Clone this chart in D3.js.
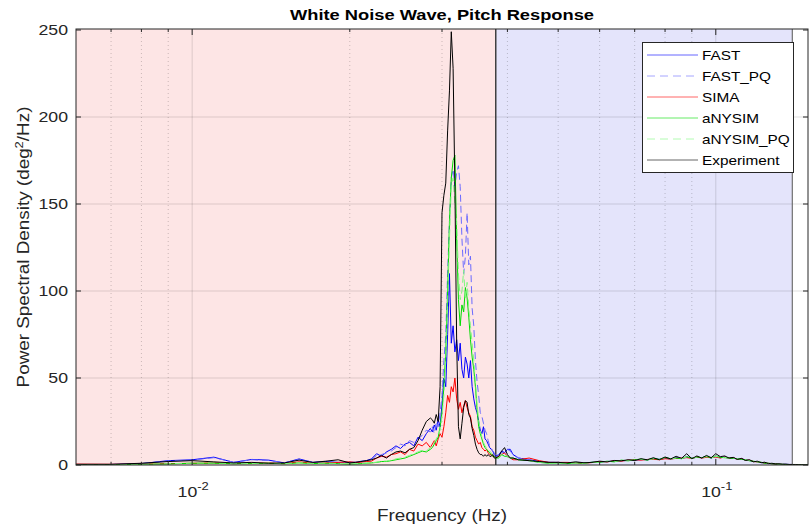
<!DOCTYPE html>
<html>
<head>
<meta charset="utf-8">
<script src="https://cdn.jsdelivr.net/npm/d3@7"></script>
<style>
  body { margin: 0; background: #fff; }
  svg { font-family: "Liberation Sans", Arial, sans-serif; }
</style>
</head>
<body>
<svg id="chart" width="809" height="529"></svg>
<script>
// Frequencies (Hz) shared by all series
const freq = [
  0.006, 0.007, 0.008, 0.009, 0.010, 0.011, 0.012, 0.013, 0.014, 0.015, 0.016, 0.017, 0.018, 0.019, 0.020,
  0.0205, 0.021, 0.0215, 0.022, 0.0225, 0.023, 0.0235, 0.024, 0.0245, 0.025, 0.0255, 0.026, 0.0265, 0.027, 0.0275, 0.028, 0.0285,
  0.02875, 0.029, 0.02925, 0.0295, 0.02975, 0.030, 0.03025, 0.0305, 0.03075, 0.031, 0.03125, 0.0315, 0.03175, 0.032,
  0.03225, 0.0325, 0.03275, 0.033, 0.03325, 0.0335, 0.03375, 0.034, 0.03425, 0.0345, 0.03475, 0.035, 0.03525, 0.0355,
  0.03575, 0.036, 0.03625, 0.0365, 0.03675, 0.037, 0.03725, 0.0375, 0.03775, 0.038,
  0.0385, 0.039, 0.0395, 0.040, 0.0405, 0.041, 0.042,
  0.044, 0.046, 0.048, 0.050, 0.052, 0.054, 0.056, 0.058, 0.060, 0.062, 0.064, 0.066, 0.068, 0.070,
  0.072, 0.074, 0.076, 0.078, 0.080, 0.082, 0.084, 0.086, 0.088, 0.090, 0.092, 0.094, 0.096, 0.098, 0.100,
  0.102, 0.104, 0.106, 0.108, 0.110, 0.112, 0.114, 0.116, 0.118, 0.120, 0.122, 0.124, 0.126, 0.128, 0.130,
  0.132, 0.134, 0.136, 0.138, 0.140, 0.142, 0.144, 0.146, 0.148, 0.150
];

const fast = [
  0.3, 0.3, 0.8, 2.5, 3.0, 4.5, 1.5, 3.2, 2.8, 1.2, 3.5, 1.5, 2.0, 1.5, 1.5,
  1.5, 2.0, 2.5, 3.5, 6.5, 5.0, 7.5, 9.0, 11, 9.5, 12, 13, 11, 16, 14, 18, 21,
  19, 23, 20, 26, 22, 35, 50, 45, 75, 110, 70, 80, 65, 72,
  60, 70, 55, 50, 62, 58, 50, 60, 45, 38, 33, 30, 25, 20,
  18, 22, 15, 14, 12, 10, 9, 8, 6, 5,
  6, 8, 7, 9, 9, 6, 4,
  3, 2, 1.5, 1.5, 1.2, 1.5, 1.2, 1.5, 1.8, 2.0, 2.2, 2.5, 2.6, 2.8,
  3.2, 3.0, 3.6, 3.2, 4.0, 3.4, 4.2, 3.8, 4.6, 4.0, 4.4, 4.2, 4.8, 4.0, 5.0,
  4.2, 4.6, 3.8, 4.0, 3.4, 3.6, 2.8, 2.6, 2.0, 2.0, 1.4, 1.2, 0.9, 0.8, 0.6,
  0.5, 0.4, 0.4, 0.3, 0.3, 0.2, 0.2, 0.2, 0.1, 0.1
];

const fastPQ = [
  0.3, 0.3, 0.8, 2.3, 2.8, 4.2, 1.6, 3.0, 2.6, 1.3, 3.2, 1.6, 1.8, 1.4, 1.6,
  1.6, 2.2, 2.4, 3.2, 5.5, 6.0, 7.0, 8.0, 10, 12, 11, 14, 13, 15, 17, 20, 19,
  22, 18, 25, 22, 30, 40, 60, 75, 110, 140, 165, 170, 160, 168,
  172, 160, 130, 110, 120, 145, 115, 120, 90, 80, 60, 48, 40, 30,
  28, 24, 20, 18, 14, 11, 10, 8, 7, 5,
  6, 7, 8, 9, 8, 6, 4,
  3, 2, 1.5, 1.5, 1.2, 1.4, 1.3, 1.5, 1.8, 2.0, 2.2, 2.4, 2.6, 2.9,
  3.0, 3.1, 3.4, 3.3, 3.8, 3.5, 4.0, 3.8, 4.4, 4.0, 4.5, 4.1, 4.6, 4.2, 4.8,
  4.3, 4.5, 3.9, 4.0, 3.5, 3.5, 2.9, 2.6, 2.1, 1.9, 1.5, 1.2, 0.9, 0.8, 0.6,
  0.5, 0.4, 0.4, 0.3, 0.3, 0.2, 0.2, 0.2, 0.1, 0.1
];

const sima = [
  0.5, 0.4, 0.5, 0.8, 1.0, 1.2, 0.8, 1.0, 1.2, 0.8, 1.8, 1.0, 1.2, 1.5, 1.8,
  1.5, 1.6, 2.0, 2.2, 4.0, 5.0, 4.5, 6.0, 6.5, 7.5, 6.0, 9.0, 8.0, 12, 11, 13, 10,
  12, 14, 11, 15, 18, 16, 22, 30, 40, 36, 45, 42, 50, 38,
  32, 36, 30, 34, 37, 33, 30, 28, 22, 20, 16, 14, 12, 13,
  10, 9, 8, 9, 7, 6, 6, 5, 5, 4,
  5, 6, 7, 5, 4, 3, 3,
  4, 2.5, 1.5, 1.5, 1.5, 1.3, 1.0, 1.4, 2.0, 1.8, 2.4, 2.2, 2.8, 3.0,
  2.8, 3.2, 3.3, 3.0, 3.6, 3.4, 3.8, 4.0, 4.2, 3.8, 4.6, 4.0, 4.4, 4.2, 4.6,
  4.0, 4.6, 3.8, 4.2, 3.2, 3.6, 2.8, 2.8, 2.0, 1.8, 1.5, 1.1, 1.0, 0.7, 0.6,
  0.5, 0.4, 0.3, 0.3, 0.3, 0.2, 0.2, 0.2, 0.1, 0.1
];

const anysim = [
  0.2, 0.2, 0.4, 0.6, 1.0, 1.0, 0.7, 0.8, 1.0, 0.7, 1.2, 0.8, 1.0, 0.8, 0.5,
  0.6, 0.8, 1.0, 1.2, 1.5, 2.0, 2.0, 2.5, 3.0, 3.5, 4.0, 5.0, 6.0, 7.0, 8.0, 7.5, 9.0,
  10, 12, 14, 16, 22, 30, 45, 65, 100, 140, 165, 175, 178, 130,
  95, 80, 92, 88, 102, 96, 85, 72, 62, 55, 45, 32, 22, 18,
  15, 12, 10, 9, 8, 7, 6, 5, 5, 4,
  4, 6, 5, 5, 4, 4, 3,
  2.5, 1.5, 1.0, 1.2, 0.8, 1.2, 1.0, 1.6, 1.5, 2.2, 1.8, 2.8, 2.4, 3.0,
  3.4, 2.8, 3.8, 3.2, 4.4, 3.6, 4.0, 3.6, 4.8, 3.8, 4.6, 4.2, 5.0, 4.0, 5.2,
  4.4, 4.2, 4.0, 3.8, 3.6, 3.2, 3.0, 2.4, 2.2, 1.8, 1.6, 1.0, 1.0, 0.7, 0.6,
  0.4, 0.4, 0.3, 0.3, 0.2, 0.2, 0.2, 0.1, 0.1, 0.1
];

const anysimPQ = [
  0.2, 0.2, 0.4, 0.7, 1.1, 1.2, 0.8, 0.9, 1.1, 0.8, 1.3, 0.9, 1.1, 0.9, 0.6,
  0.7, 0.9, 1.1, 1.3, 1.6, 2.2, 2.3, 2.8, 3.5, 4.0, 4.5, 5.5, 6.5, 7.5, 8.5, 8.0, 10,
  11, 13, 15, 18, 20, 28, 40, 60, 90, 130, 160, 165, 150, 140,
  110, 95, 100, 112, 95, 105, 90, 80, 70, 60, 48, 35, 26, 20,
  16, 13, 11, 10, 9, 8, 7, 6, 5, 4,
  4, 6, 6, 5, 4, 4, 3,
  2.5, 1.5, 1.0, 1.2, 0.9, 1.2, 1.0, 1.5, 1.6, 2.0, 2.0, 2.6, 2.5, 3.0,
  3.2, 3.0, 3.6, 3.2, 4.2, 3.5, 4.0, 3.7, 4.6, 3.9, 4.5, 4.2, 4.8, 4.1, 5.0,
  4.3, 4.4, 3.9, 3.9, 3.5, 3.4, 2.9, 2.5, 2.1, 1.9, 1.5, 1.1, 1.0, 0.7, 0.6,
  0.5, 0.4, 0.3, 0.3, 0.3, 0.2, 0.2, 0.1, 0.1, 0.1
];

const experiment = [
  0.4, 0.4, 1.0, 2.0, 2.5, 1.8, 1.2, 1.5, 1.0, 1.2, 2.8, 1.5, 2.2, 3.0, 1.2,
  1.5, 2.0, 2.5, 3.0, 4.0, 5.5, 4.0, 6.0, 7.5, 8.0, 7.0, 9.0, 10, 14, 20, 25, 27,
  26, 24, 29, 25, 45, 145, 155, 162, 192, 215, 249, 228, 160, 70,
  22, 15, 24, 33, 37, 36, 29, 27, 21, 17, 12, 9, 7, 6,
  6, 5, 6, 5, 6, 5, 5, 6, 4, 4,
  5, 8, 10, 6, 4, 4, 3,
  2.5, 2, 1.5, 1.5, 1.2, 1.8, 1.3, 1.5, 2.2, 1.8, 2.6, 2.4, 3.0, 2.6,
  3.6, 3.0, 4.2, 3.0, 4.6, 3.5, 5.0, 3.8, 6.5, 3.6, 5.2, 4.0, 5.5, 4.2, 6.5,
  4.8, 5.2, 4.0, 4.4, 3.2, 3.8, 2.6, 3.0, 1.8, 2.2, 1.3, 1.6, 0.8, 1.0, 0.6,
  0.7, 0.4, 0.5, 0.3, 0.3, 0.3, 0.2, 0.2, 0.1, 0.1
];

const seriesNames = ["FAST", "FAST_PQ", "SIMA", "aNYSIM", "aNYSIM_PQ", "Experiment"];
const seriesValues = [fast, fastPQ, sima, anysim, anysimPQ, experiment];
const seriesColors = ["#0000ff", "#6a6aff", "#ff0000", "#00dd00", "#80f880", "#000000"];
const seriesDash = [null, "7,4", null, null, "7,4", null];

const yTicks = [0, 50, 100, 150, 200, 250];
const xMajor = [0.01, 0.1];
const xMinor = [0.007, 0.008, 0.009, 0.02, 0.03, 0.04, 0.05, 0.06, 0.07, 0.08, 0.09];

// shaded frequency bands
const bands = [
  { from: 0.006, to: 0.038, fill: "#fde5e5" },
  { from: 0.038, to: 0.14, fill: "#e4e4fb" }
];

// Layout
const margin = { left: 76, top: 29, right: 808, bottom: 465 };
const svg = d3.select("#chart");
const x = d3.scaleLog().domain([0.006, 0.15]).range([margin.left, margin.right]);
const y = d3.scaleLinear().domain([0, 250]).range([margin.bottom, margin.top + 1]);
const axisColor = "#262626";
const sx = 1.18; // text runs a little wider than Liberation Sans

svg.append("defs").append("clipPath").attr("id", "clip")
   .append("rect")
   .attr("x", margin.left).attr("y", margin.top)
   .attr("width", margin.right - margin.left).attr("height", margin.bottom - margin.top);

// bands
svg.append("g").selectAll("rect")
   .data(bands)
   .enter().append("rect")
   .attr("x", d => x(d.from))
   .attr("y", margin.top)
   .attr("width", d => x(d.to) - x(d.from))
   .attr("height", margin.bottom - margin.top)
   .attr("fill", d => d.fill);

// grid
const grid = svg.append("g");
grid.selectAll(".ygrid").data(yTicks.slice(1, -1)).enter().append("line")
    .attr("x1", margin.left).attr("x2", margin.right)
    .attr("y1", d => y(d)).attr("y2", d => y(d))
    .attr("stroke", "rgba(0,0,0,0.13)");
grid.selectAll(".xgrid").data(xMajor).enter().append("line")
    .attr("x1", d => x(d)).attr("x2", d => x(d))
    .attr("y1", margin.top).attr("y2", margin.bottom)
    .attr("stroke", "rgba(0,0,0,0.13)");
grid.selectAll(".xminor").data(xMinor).enter().append("line")
    .attr("x1", d => x(d)).attr("x2", d => x(d))
    .attr("y1", margin.top).attr("y2", margin.bottom)
    .attr("stroke", "rgba(0,0,0,0.2)")
    .attr("stroke-dasharray", "1,3");

// band edges
svg.append("line")
   .attr("x1", x(0.038)).attr("x2", x(0.038))
   .attr("y1", margin.top).attr("y2", margin.bottom)
   .attr("stroke", "#404040").attr("stroke-width", 1.5);
svg.append("line")
   .attr("x1", x(0.14)).attr("x2", x(0.14))
   .attr("y1", margin.top).attr("y2", margin.bottom)
   .attr("stroke", "#707070").attr("stroke-width", 1.2);

// data lines
const line = d3.line()
    .x((d, i) => x(freq[i]))
    .y(d => y(d));

svg.append("g").attr("clip-path", "url(#clip)")
   .selectAll("path")
   .data(seriesValues)
   .enter().append("path")
   .attr("d", d => line(d))
   .attr("fill", "none")
   .attr("stroke", (d, i) => seriesColors[i])
   .attr("stroke-width", 1)
   .attr("stroke-dasharray", (d, i) => seriesDash[i]);

// axes box
svg.append("rect")
   .attr("x", margin.left).attr("y", margin.top)
   .attr("width", margin.right - margin.left).attr("height", margin.bottom - margin.top)
   .attr("fill", "none").attr("stroke", axisColor).attr("stroke-width", 1);

// ticks
const ticks = svg.append("g").attr("stroke", axisColor);
yTicks.forEach(v => {
    ticks.append("line").attr("x1", margin.left).attr("x2", margin.left + 5).attr("y1", y(v)).attr("y2", y(v));
    ticks.append("line").attr("x1", margin.right - 5).attr("x2", margin.right).attr("y1", y(v)).attr("y2", y(v));
});
xMajor.forEach(v => {
    ticks.append("line").attr("x1", x(v)).attr("x2", x(v)).attr("y1", margin.bottom).attr("y2", margin.bottom - 6);
    ticks.append("line").attr("x1", x(v)).attr("x2", x(v)).attr("y1", margin.top).attr("y2", margin.top + 6);
});
xMinor.forEach(v => {
    ticks.append("line").attr("x1", x(v)).attr("x2", x(v)).attr("y1", margin.bottom).attr("y2", margin.bottom - 3);
    ticks.append("line").attr("x1", x(v)).attr("x2", x(v)).attr("y1", margin.top).attr("y2", margin.top + 3);
});

// tick labels
svg.append("g").selectAll("text")
   .data(yTicks).enter().append("text")
   .attr("transform", d => `translate(${margin.left - 8},${y(d) + 5}) scale(${sx},1)`)
   .attr("text-anchor", "end")
   .attr("font-size", 15).attr("fill", axisColor)
   .text(d => d);

const xl = svg.append("g").selectAll("text")
   .data(xMajor).enter().append("text")
   .attr("transform", d => `translate(${x(d) + 1},497) scale(${sx},1)`)
   .attr("text-anchor", "middle")
   .attr("font-size", 15).attr("fill", axisColor);
xl.append("tspan").text("10");
xl.append("tspan").attr("dy", -7).attr("font-size", 11).text(d => Math.round(Math.log10(d)));

// title and labels
svg.append("text")
   .attr("transform", `translate(${(margin.left + margin.right) / 2},20) scale(${sx},1)`)
   .attr("text-anchor", "middle").attr("font-size", 15.5).attr("font-weight", "bold")
   .attr("fill", "#000")
   .text("White Noise Wave, Pitch Response");

svg.append("text")
   .attr("transform", `translate(${(margin.left + margin.right) / 2},521) scale(${sx},1)`)
   .attr("text-anchor", "middle").attr("font-size", 16).attr("fill", axisColor)
   .text("Frequency (Hz)");

const yl = svg.append("text")
   .attr("transform", `translate(29, ${(margin.top + margin.bottom) / 2}) rotate(-90) scale(${sx},1)`)
   .attr("text-anchor", "middle").attr("font-size", 16).attr("fill", axisColor);
yl.append("tspan").text("Power Spectral Density (deg");
yl.append("tspan").attr("dy", -6).attr("font-size", 11).text("2");
yl.append("tspan").attr("dy", 6).text("/Hz)");

// legend
const legend = svg.append("g");
legend.append("rect")
      .attr("x", 642.5).attr("y", 42.5).attr("width", 151).attr("height", 130)
      .attr("fill", "#fff").attr("stroke", axisColor);
const rows = legend.selectAll(".row").data(seriesNames).enter().append("g")
      .attr("transform", (d, i) => `translate(0, ${55 + i * 21})`);
rows.append("line")
    .attr("x1", 647).attr("x2", 698).attr("y1", 0).attr("y2", 0)
    .attr("stroke", (d, i) => seriesColors[i])
    .attr("stroke-opacity", 0.6)
    .attr("stroke-dasharray", (d, i) => seriesDash[i] ? "8,5" : null);
rows.append("text")
    .attr("transform", `translate(702,5) scale(${sx},1)`)
    .attr("font-size", 13).attr("fill", "#000")
    .text(d => d);
</script>
</body>
</html>
